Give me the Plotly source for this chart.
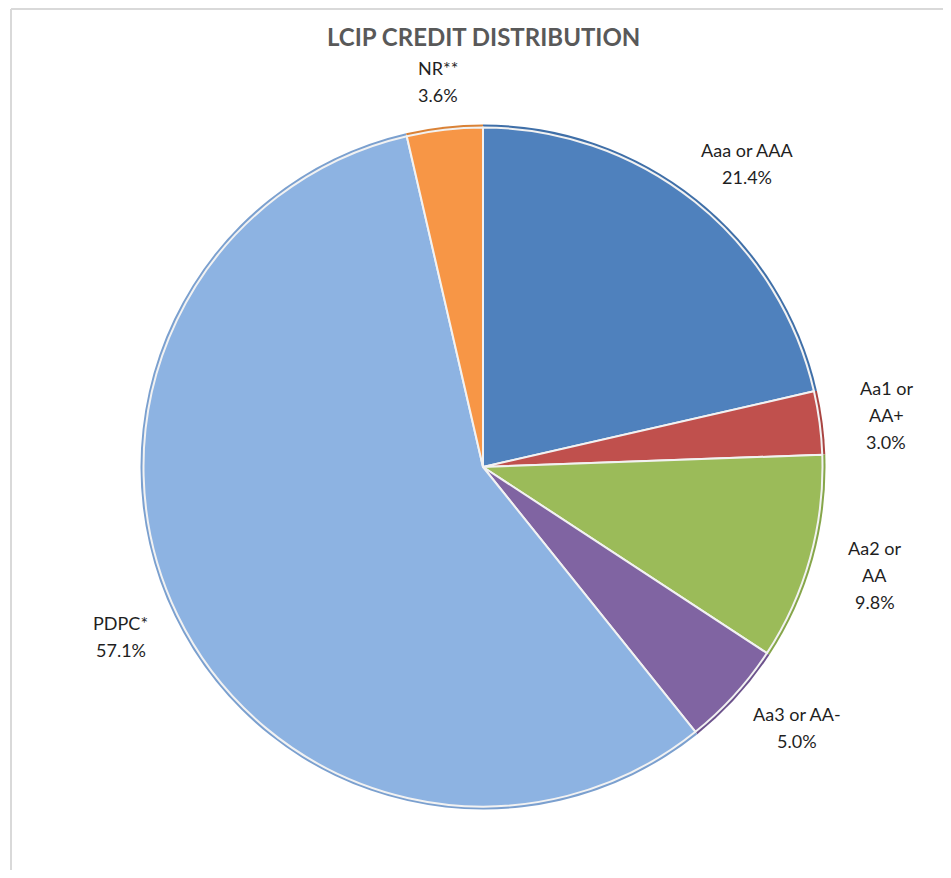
import math
import plotly.graph_objects as go

# ---- data ----
categories = ["Aaa or AAA", "Aa1 or AA+", "Aa2 or AA", "Aa3 or AA-", "PDPC*", "NR**"]
label_lines = [["Aaa or AAA"], ["Aa1 or", "AA+"], ["Aa2 or", "AA"], ["Aa3 or AA-"], ["PDPC*"], ["NR**"]]
values = [21.4, 3.0, 9.8, 5.0, 57.1, 3.6]
colors = ["#4F81BD", "#C0504D", "#9BBB59", "#8064A2", "#8DB3E2", "#F79646"]
rim_colors = ["#3F6FA8", "#A94441", "#86A64A", "#6C528C", "#7BA0CF", "#DA8236"]
title_text = "LCIP CREDIT DISTRIBUTION"

# figure sized so the page (with the browser's 8px body margin) does not scroll
W, H = 935, 862
OFF = 8
cx, cy, R = 483 - OFF, 467 - OFF, 341

def dom(r):
    return dict(x=[(cx - r) / W, (cx + r) / W], y=[1 - (cy + r) / H, 1 - (cy - r) / H])

fig = go.Figure()
fig.add_trace(go.Pie(
    labels=categories, values=values, sort=False, direction="clockwise",
    marker=dict(colors=rim_colors, line=dict(color="#FFFFFF", width=0)),
    textinfo="none", hoverinfo="skip", domain=dom(R + 1.5), showlegend=False,
))
fig.add_trace(go.Pie(
    labels=categories, values=values, sort=False, direction="clockwise",
    marker=dict(colors=colors, line=dict(color="#F2F2F2", width=2)),
    textinfo="none", domain=dom(R - 1.5), showlegend=False,
))

# labels placed outside along slice mid-angles
font_size = 18
line_h = 27
char_w = 8.6
gx, gy = 40, 20
total = sum(values)
cum = 0.0
annotations = []
for cat, lines, v in zip(categories, label_lines, values):
    mid = (cum + v / 2) / total * 2 * math.pi
    cum += v
    s, c = math.sin(mid), math.cos(mid)
    all_lines = lines + [f"{v:.1f}%"]
    w = max(len(t) for t in all_lines) * char_w
    h = line_h * len(all_lines)
    bx = cx + (R + gx) * s + s * w / 2
    by = cy - (R + gy) * c - c * h / 2
    top = by - h / 2
    for i, t in enumerate(all_lines):
        yy = top + line_h * (i + 0.5)
        annotations.append(dict(
            x=bx / W, y=1 - yy / H, xref="paper", yref="paper", text=t,
            showarrow=False, xanchor="center", yanchor="middle",
            font=dict(family="Lato", size=font_size, color="#1F1F1F"),
        ))

annotations.append(dict(
    x=cx / W, y=1 - (37 - OFF) / H, xref="paper", yref="paper",
    text=f"<b>{title_text}</b>", showarrow=False, xanchor="center", yanchor="middle",
    font=dict(family="Lato", size=24, color="#595959"),
))

fig.update_layout(
    width=W, height=H,
    margin=dict(l=0, r=0, t=0, b=0),
    paper_bgcolor="#FFFFFF", plot_bgcolor="#FFFFFF",
    annotations=annotations,
    shapes=[
        dict(type="line", xref="paper", yref="paper", x0=(11 - OFF) / W, x1=1,
             y0=1 - 1 / H, y1=1 - 1 / H, line=dict(color="#D9D9D9", width=2)),
        dict(type="line", xref="paper", yref="paper", x0=(11 - OFF) / W, x1=(11 - OFF) / W,
             y0=0, y1=1 - 1 / H, line=dict(color="#D9D9D9", width=2)),
    ],
)

fig.write_html("out.html")
